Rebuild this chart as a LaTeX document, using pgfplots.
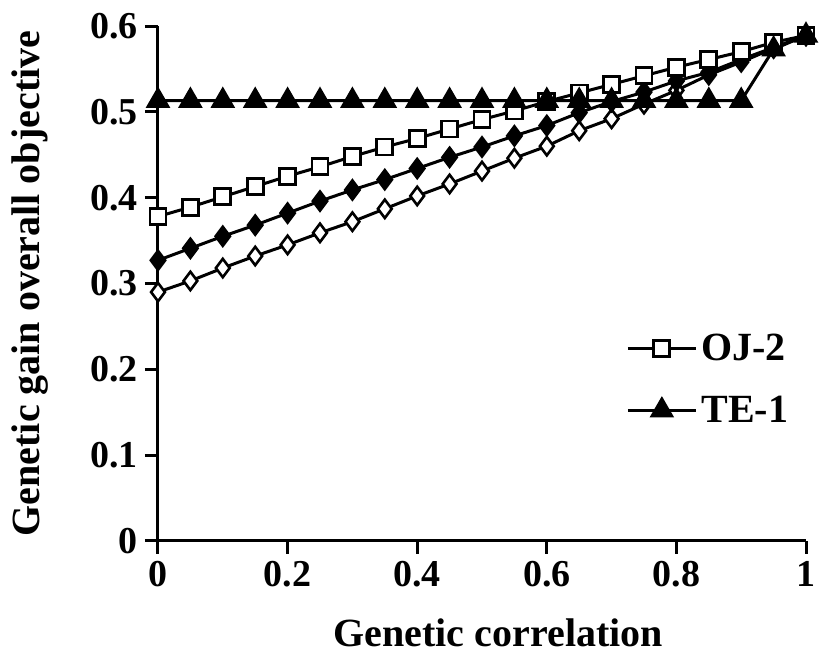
\documentclass[border=0pt]{standalone}
\usepackage{pgfplots}
\pgfplotsset{compat=1.18}
\usepackage{fontspec}
\setmainfont{Liberation Serif}
\begin{document}
\begin{tikzpicture}
\useasboundingbox (-79pt,-57.5pt) rectangle (336pt,270.5pt);
\begin{axis}[
  scale only axis,
  width=324pt, height=257.5pt,
  at={(0,0)}, anchor=south west,
  xmin=0, xmax=1, ymin=0, ymax=0.6,
  axis x line*=bottom, axis y line*=left,
  axis line style={line width=1.5pt},
  xtick={0,0.2,0.4,0.6,0.8,1},
  xticklabels={0,0.2,0.4,0.6,0.8,1},
  ytick={0,0.1,0.2,0.3,0.4,0.5,0.6},
  yticklabels={0,0.1,0.2,0.3,0.4,0.5,0.6},
  tick align=outside,
  major tick length=6.5pt,
  tick style={line width=1.5pt, black},
  tick label style={font=\fontsize{19}{22}\selectfont\bfseries},
  /pgf/number format/assume math mode=true,
  xlabel={Genetic correlation},
  ylabel={Genetic gain overall objective},
  label style={font=\fontsize{20}{24}\selectfont\bfseries},
  xlabel style={at={(axis description cs:0.525,-0.178)}, anchor=center},
  ylabel style={at={(axis description cs:-0.198,0.5)}, anchor=center},
  clip=false,
  legend style={at={(axis description cs:0.716,0.418)}, anchor=north west,
    draw=none, fill=white, font=\fontsize{20}{24}\selectfont\bfseries,
    row sep=12pt, inner sep=2pt},
  legend cell align=left,
  legend image code/.code={\draw[mark repeat=2,mark phase=2] plot coordinates {(0pt,0pt)(17pt,0pt)(34pt,0pt)};},
]
% open diamonds
\addplot[black, line width=1.5pt, mark=diamond*, mark size=4.6pt, mark options={fill=white, line width=1.3pt}, forget plot] coordinates {
(0,0.290)(0.05,0.303)(0.1,0.318)(0.15,0.332)(0.2,0.345)(0.25,0.359)(0.3,0.372)(0.35,0.387)(0.4,0.402)(0.45,0.416)(0.5,0.431)(0.55,0.446)(0.6,0.460)(0.65,0.478)(0.7,0.492)(0.75,0.509)(0.8,0.525)(0.85,0.543)(0.9,0.558)(0.95,0.574)(1,0.589)};
% filled diamonds
\addplot[black, line width=1.5pt, mark=diamond*, mark size=4.6pt, mark options={fill=black}, forget plot] coordinates {
(0,0.327)(0.05,0.341)(0.1,0.355)(0.15,0.368)(0.2,0.382)(0.25,0.396)(0.3,0.409)(0.35,0.421)(0.4,0.434)(0.45,0.447)(0.5,0.459)(0.55,0.472)(0.6,0.484)(0.65,0.499)(0.7,0.512)(0.75,0.523)(0.8,0.536)(0.85,0.546)(0.9,0.561)(0.95,0.575)(1,0.589)};
% OJ-2
\addplot[black, line width=1.5pt, mark=square*, mark size=4pt, mark options={fill=white, line width=1.4pt}] coordinates {
(0,0.378)(0.05,0.389)(0.1,0.401)(0.15,0.413)(0.2,0.425)(0.25,0.436)(0.3,0.448)(0.35,0.459)(0.4,0.469)(0.45,0.480)(0.5,0.491)(0.55,0.501)(0.6,0.512)(0.65,0.522)(0.7,0.532)(0.75,0.542)(0.8,0.552)(0.85,0.561)(0.9,0.570)(0.95,0.581)(1,0.589)};
\addlegendentry{OJ-2}
% TE-1
\addplot[black, line width=1.5pt, mark=triangle*, mark size=5.6pt, mark options={fill=black}] coordinates {
(0,0.513)(0.05,0.513)(0.1,0.513)(0.15,0.513)(0.2,0.513)(0.25,0.513)(0.3,0.513)(0.35,0.513)(0.4,0.513)(0.45,0.513)(0.5,0.513)(0.55,0.513)(0.6,0.513)(0.65,0.513)(0.7,0.513)(0.75,0.513)(0.8,0.513)(0.85,0.513)(0.9,0.513)(0.95,0.573)(1,0.589)};
\addlegendentry{TE-1}
\end{axis}
\end{tikzpicture}
\end{document}
